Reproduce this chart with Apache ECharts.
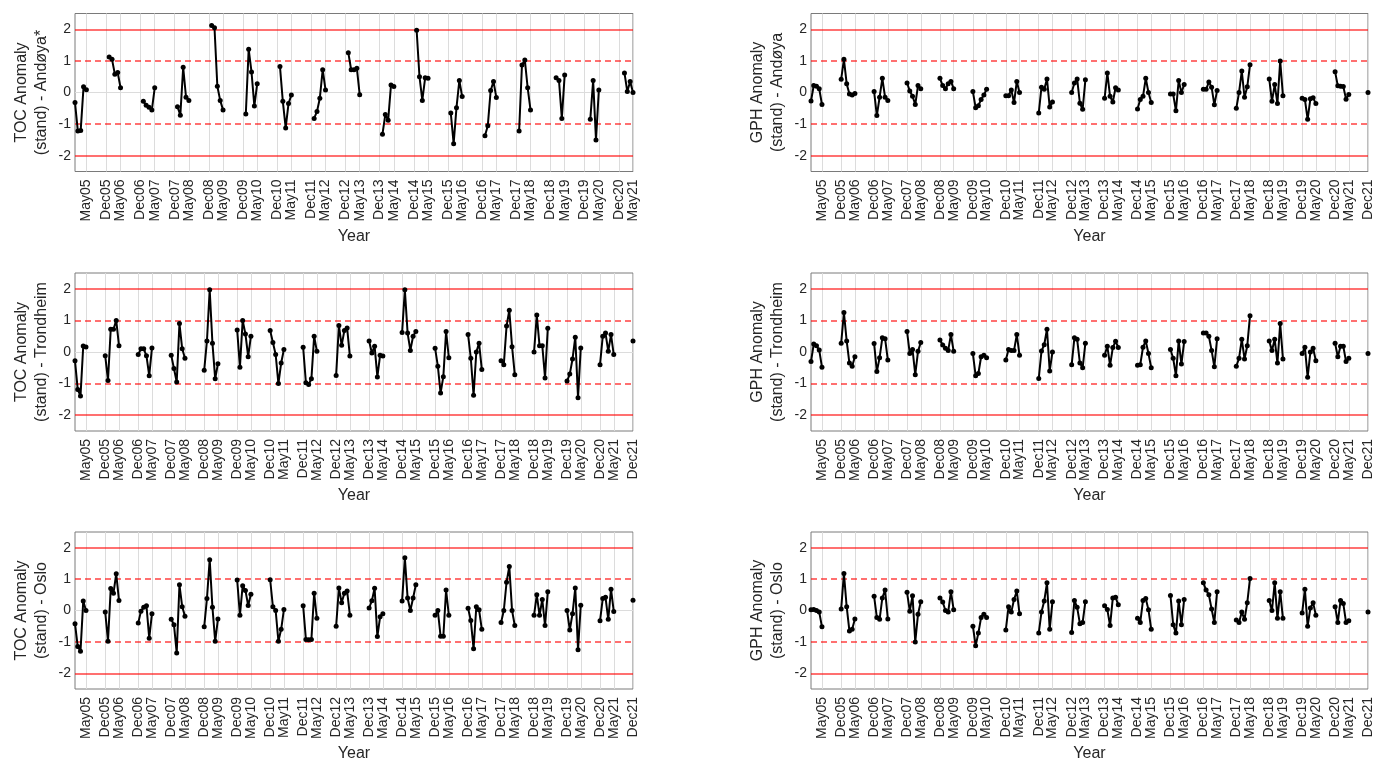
<!DOCTYPE html>
<html>
<head>
<meta charset="utf-8">
<script src="https://cdn.jsdelivr.net/npm/echarts/dist/echarts.min.js"></script>
<style>
  body { margin: 0; background: #fff; }
  #chart { width: 1375px; height: 763px; }
</style>
</head>
<body>
<div id="chart"></div>
<script>
// months counted from Jan 2005 (0); every winter block is a start month + values
const monthNames = ['Jan', 'Feb', 'Mar', 'Apr', 'May', 'Jun', 'Jul', 'Aug', 'Sep', 'Oct', 'Nov', 'Dec']
const tickMonths = ['May', 'Dec']
const lastMonthAndoyaToc = 196 // May21
const lastMonth = 203 // Dec21

const andoyaTocStarts = [0, 12, 24, 36, 48, 60, 72, 84, 96, 108, 120, 132, 144, 156, 169, 181, 193]
const winterStarts = [0, 11, 23, 35, 47, 59, 71, 83, 95, 107, 119, 131, 143, 155, 167, 179, 191, 203]

const tocAndoya = [
  [-0.32, -1.22, -1.2, 0.18, 0.09],
  [1.12, 1.05, 0.58, 0.63, 0.15],
  [-0.28, -0.4, -0.47, -0.55, 0.15],
  [-0.45, -0.72, 0.8, -0.15, -0.25],
  [2.12, 2.05, 0.2, -0.25, -0.55],
  [-0.68, 1.37, 0.65, -0.43, 0.28],
  [0.82, -0.28, -1.12, -0.35, -0.08],
  [-0.82, -0.6, -0.18, 0.72, 0.08],
  [1.26, 0.72, 0.72, 0.77, -0.07],
  [-1.32, -0.7, -0.88, 0.24, 0.19],
  [1.97, 0.5, -0.25, 0.47, 0.45],
  [-0.65, -1.62, -0.48, 0.38, -0.13],
  [-1.37, -1.05, 0.06, 0.35, -0.16],
  [-1.22, 0.87, 1.03, 0.15, -0.55],
  [0.47, 0.38, -0.82, 0.55],
  [-0.85, 0.38, -1.5, 0.08],
  [0.62, 0.03, 0.35, 0.0]
]
const gphAndoya = [
  [-0.27, 0.22, 0.2, 0.12, -0.38],
  [0.42, 1.05, 0.28, -0.05, -0.08, -0.03],
  [0.03, -0.73, -0.15, 0.45, -0.15, -0.25],
  [0.3, 0.05, -0.12, -0.38, 0.22, 0.12],
  [0.45, 0.22, 0.12, 0.28, 0.35, 0.12],
  [0.03, -0.48, -0.42, -0.22, -0.08, 0.1],
  [-0.1, -0.1, 0.08, -0.32, 0.35, 0.0],
  [-0.65, 0.17, 0.1, 0.43, -0.46, -0.3],
  [0.0, 0.3, 0.43, -0.34, -0.53, 0.4],
  [-0.18, 0.62, -0.12, -0.3, 0.15, 0.08],
  [-0.52, -0.22, -0.12, 0.45, 0.0, -0.32],
  [-0.05, -0.05, -0.58, 0.38, 0.0, 0.25],
  [0.1, 0.1, 0.33, 0.17, -0.39, 0.06],
  [-0.5, 0.0, 0.68, -0.15, 0.18, 0.88],
  [0.43, -0.28, 0.25, -0.35, 1.0, -0.1],
  [-0.18, -0.22, -0.85, -0.2, -0.17, -0.35],
  [0.66, 0.21, 0.2, 0.19, -0.21, -0.06],
  [0.0]
]
const tocTrondheim = [
  [-0.28, -1.19, -1.39, 0.19, 0.16],
  [-0.12, -0.9, 0.72, 0.72, 1.0, 0.2],
  [-0.08, 0.1, 0.1, -0.12, -0.75, 0.13],
  [-0.1, -0.52, -0.95, 0.9, 0.1, -0.2],
  [-0.58, 0.35, 1.97, 0.28, -0.85, -0.37],
  [0.7, -0.48, 1.0, 0.57, -0.15, 0.5],
  [0.68, 0.3, -0.08, -1.0, -0.35, 0.08],
  [0.15, -0.97, -1.03, -0.85, 0.5, 0.02],
  [-0.74, 0.84, 0.21, 0.68, 0.76, -0.13],
  [0.35, -0.03, 0.18, -0.79, -0.1, -0.13],
  [0.62, 1.97, 0.6, 0.05, 0.5, 0.65],
  [0.12, -0.45, -1.3, -0.78, 0.65, -0.18],
  [0.55, -0.2, -1.37, 0.0, 0.28, -0.55],
  [-0.28, -0.4, 0.82, 1.32, 0.17, -0.72],
  [0.0, 1.17, 0.2, 0.2, -0.82, 0.75],
  [-0.92, -0.7, -0.22, 0.47, -1.45, 0.13],
  [-0.4, 0.5, 0.6, 0.02, 0.55, -0.08],
  [0.35]
]
const gphTrondheim = [
  [-0.3, 0.25, 0.2, 0.06, -0.48],
  [0.28, 1.25, 0.35, -0.35, -0.45, -0.15],
  [0.27, -0.62, -0.18, 0.45, 0.42, -0.25],
  [0.65, -0.05, 0.08, -0.72, 0.02, 0.3],
  [0.38, 0.22, 0.12, 0.05, 0.55, 0.02],
  [-0.05, -0.75, -0.68, -0.15, -0.1, -0.18],
  [-0.25, 0.08, 0.05, 0.05, 0.55, -0.1],
  [-0.84, 0.03, 0.23, 0.72, -0.6, 0.0],
  [-0.4, 0.45, 0.4, -0.35, -0.5, 0.28],
  [-0.1, 0.18, -0.42, 0.14, 0.34, 0.14],
  [-0.42, -0.4, 0.15, 0.35, -0.05, -0.5],
  [0.08, -0.2, -0.75, 0.35, -0.38, 0.33],
  [0.6, 0.6, 0.5, 0.05, -0.47, 0.42],
  [-0.45, -0.2, 0.4, -0.22, 0.2, 1.15],
  [0.35, 0.05, 0.4, -0.35, 0.9, -0.22],
  [-0.05, 0.15, -0.8, 0.0, 0.12, -0.28],
  [0.28, -0.15, 0.18, 0.18, -0.3, -0.2],
  [-0.05]
]
const tocOslo = [
  [-0.42, -1.15, -1.3, 0.3, 0.0],
  [-0.05, -0.98, 0.7, 0.55, 1.17, 0.32],
  [-0.4, -0.02, 0.1, 0.15, -0.88, -0.1],
  [-0.28, -0.45, -1.35, 0.82, 0.12, -0.18],
  [-0.52, 0.38, 1.62, 0.1, -0.98, -0.27],
  [0.97, -0.15, 0.79, 0.64, 0.16, 0.52],
  [0.98, 0.12, 0.0, -0.98, -0.6, 0.03],
  [0.15, -0.92, -0.93, -0.92, 0.55, -0.25],
  [-0.5, 0.72, 0.25, 0.55, 0.62, -0.15],
  [0.08, 0.31, 0.71, -0.83, -0.2, -0.1],
  [0.3, 1.68, 0.4, 0.0, 0.4, 0.82],
  [-0.15, 0.0, -0.82, -0.82, 0.65, -0.15],
  [0.07, -0.32, -1.22, 0.12, 0.02, -0.6],
  [-0.38, 0.0, 0.9, 1.4, 0.0, -0.48],
  [-0.15, 0.5, -0.15, 0.35, -0.48, 0.6],
  [0.0, -0.62, -0.1, 0.72, -1.25, 0.17],
  [-0.33, 0.38, 0.42, -0.28, 0.68, -0.03],
  [0.33]
]
const gphOslo = [
  [0.02, 0.03, 0.0, -0.05, -0.52],
  [0.05, 1.18, 0.12, -0.65, -0.6, -0.27],
  [0.45, -0.22, -0.28, 0.4, 0.65, -0.27],
  [0.58, -0.02, 0.47, -1.0, -0.12, 0.28],
  [0.4, 0.27, 0.0, -0.05, 0.6, 0.02],
  [-0.5, -1.12, -0.72, -0.22, -0.12, -0.22],
  [-0.62, 0.12, -0.05, 0.35, 0.62, -0.1],
  [-0.72, -0.05, 0.3, 0.88, -0.6, 0.28],
  [-0.7, 0.32, 0.1, -0.42, -0.38, 0.28],
  [0.15, 0.03, -0.48, 0.4, 0.42, 0.18],
  [-0.25, -0.38, 0.32, 0.38, 0.02, -0.6],
  [0.48, -0.45, -0.72, 0.3, -0.45, 0.35],
  [0.88, 0.65, 0.5, 0.05, -0.38, 0.6],
  [-0.3, -0.38, -0.05, -0.28, 0.25, 1.02],
  [0.32, 0.0, 0.88, -0.25, 0.6, -0.25],
  [-0.08, 0.68, -0.5, 0.08, 0.25, -0.15],
  [0.12, -0.38, 0.32, 0.22, -0.38, -0.33],
  [-0.05]
]

const yLimitLines = [2, -2]
const yBandLines = [1, -1]

const panels = [
  { name: 'TOC Anomaly\n(stand) - Andøya*', last: lastMonthAndoyaToc, starts: andoyaTocStarts, segs: tocAndoya, left: 75, top: 13.5, height: 158 },
  { name: 'GPH Anomaly\n(stand) - Andøya', last: lastMonth, starts: winterStarts, segs: gphAndoya, left: 811, top: 13.5, height: 158 },
  { name: 'TOC Anomaly\n(stand) - Trondheim', last: lastMonth, starts: winterStarts, segs: tocTrondheim, left: 75, top: 273, height: 158 },
  { name: 'GPH Anomaly\n(stand) - Trondheim', last: lastMonth, starts: winterStarts, segs: gphTrondheim, left: 811, top: 273, height: 158 },
  { name: 'TOC Anomaly\n(stand) - Oslo', last: lastMonth, starts: winterStarts, segs: tocOslo, left: 75, top: 532, height: 159 },
  { name: 'GPH Anomaly\n(stand) - Oslo', last: lastMonth, starts: winterStarts, segs: gphOslo, left: 811, top: 532, height: 159 }
]

const monthLabel = (m) => monthNames[m % 12] + String(5 + Math.floor(m / 12)).padStart(2, '0')
const isTick = (idx, val) => tickMonths.indexOf(val.slice(0, 3)) >= 0

const buildSeriesData = (last, starts, segs) => {
  const arr = new Array(last + 1).fill(null)
  starts.forEach((s, i) => {
    segs[i].forEach((v, j) => { arr[s + j] = v })
  })
  return arr
}

const textColor = '#262626'
const font = "'Liberation Sans', Arial, sans-serif"

const grid = []
const xAxis = []
const yAxis = []
const series = []
panels.forEach((p, i) => {
  const cats = []
  for (let m = 0; m <= p.last; m++) cats.push(monthLabel(m))
  grid.push({ left: p.left, top: p.top, width: 558, height: p.height, show: true, borderColor: '#7a7a7a', borderWidth: 1, backgroundColor: '#fff' })
  xAxis.push({
    type: 'category', gridIndex: i, data: cats, boundaryGap: false,
    name: 'Year', nameLocation: 'middle', nameGap: 57,
    nameTextStyle: { fontSize: 16, color: textColor, fontFamily: font },
    axisLine: { show: false }, axisTick: { show: false },
    axisLabel: { interval: isTick, rotate: 90, margin: 8, fontSize: 14, color: textColor, fontFamily: font },
    splitLine: { show: true, interval: isTick, lineStyle: { color: '#dcdcdc', width: 1 } }
  })
  yAxis.push({
    type: 'value', gridIndex: i, min: -2.5, max: 2.5, interval: 0.5,
    name: p.name, nameLocation: 'middle', nameRotate: 90, nameGap: 23,
    nameTextStyle: { fontSize: 16, lineHeight: 20, color: textColor, fontFamily: font },
    axisLine: { show: false }, axisTick: { show: false }, splitLine: { show: false },
    axisLabel: {
      margin: 4, fontSize: 14, color: textColor, fontFamily: font,
      formatter: (v) => (Number.isInteger(v) ? String(v) : '')
    }
  })
  const lines = [{ yAxis: 0, lineStyle: { color: '#dcdcdc', width: 1, type: 'solid' } }]
  yLimitLines.forEach((v) => lines.push({ yAxis: v, lineStyle: { color: 'rgba(255,0,0,0.75)', width: 1.5, type: 'solid' } }))
  yBandLines.forEach((v) => lines.push({ yAxis: v, lineStyle: { color: 'rgba(255,0,0,0.75)', width: 1.5, type: [6, 4] } }))
  series.push({
    type: 'line', xAxisIndex: i, yAxisIndex: i,
    data: buildSeriesData(p.last, p.starts, p.segs),
    symbol: 'circle', symbolSize: 5, showSymbol: true, showAllSymbol: true, connectNulls: false,
    lineStyle: { color: '#000', width: 2 }, itemStyle: { color: '#000' },
    emphasis: { disabled: true }, z: 3,
    markLine: { silent: true, symbol: 'none', label: { show: false }, animation: false, z: 1, data: lines }
  })
})

const chart = echarts.init(document.getElementById('chart'))
chart.setOption({ animation: false, grid, xAxis, yAxis, series })
</script>
</body>
</html>
